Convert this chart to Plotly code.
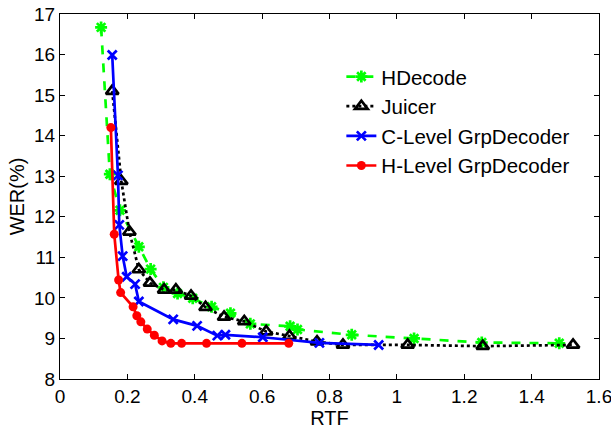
import plotly.graph_objects as go

# HDecode
hd_rtf = [0.122, 0.148, 0.178, 0.234, 0.269, 0.307, 0.349, 0.394, 0.450, 0.506, 0.565, 0.683, 0.705, 0.866, 1.051, 1.252, 1.482]
hd_wer = [16.67, 13.05, 12.16, 11.26, 10.71, 10.26, 10.11, 9.99, 9.78, 9.62, 9.36, 9.30, 9.22, 9.09, 9.00, 8.90, 8.88]

# Juicer
ju_rtf = [0.155, 0.182, 0.206, 0.234, 0.267, 0.309, 0.344, 0.389, 0.432, 0.487, 0.547, 0.612, 0.681, 0.763, 0.840, 1.032, 1.255, 1.523]
ju_wer = [15.10, 12.88, 11.63, 10.70, 10.37, 10.20, 10.20, 10.05, 9.77, 9.53, 9.42, 9.17, 9.06, 8.92, 8.84, 8.84, 8.81, 8.84]

# C-Level GrpDecoder
cl_rtf = [0.155, 0.172, 0.176, 0.186, 0.198, 0.223, 0.234, 0.336, 0.407, 0.467, 0.491, 0.602, 0.770, 0.946]
cl_wer = [15.99, 13.02, 11.80, 11.03, 10.52, 10.34, 9.91, 9.47, 9.31, 9.07, 9.09, 9.03, 8.89, 8.84]

# H-Level GrpDecoder
hl_rtf = [0.151, 0.161, 0.174, 0.180, 0.217, 0.228, 0.240, 0.259, 0.280, 0.303, 0.329, 0.361, 0.435, 0.540, 0.679]
hl_wer = [14.20, 11.57, 10.44, 10.13, 9.78, 9.56, 9.41, 9.23, 9.08, 8.94, 8.88, 8.88, 8.88, 8.88, 8.88]

x_ticks = [0, 0.2, 0.4, 0.6, 0.8, 1.0, 1.2, 1.4, 1.6]
x_labels = ["0", "0.2", "0.4", "0.6", "0.8", "1", "1.2", "1.4", "1.6"]
y_ticks = [8, 9, 10, 11, 12, 13, 14, 15, 16, 17]

FONT = "Liberation Sans, Arial, sans-serif"

fig = go.Figure()
fig.add_trace(go.Scatter(
    x=hd_rtf, y=hd_wer, name="HDecode", mode="lines+markers",
    line=dict(color="#00ff00", width=2.7, dash="dash"),
    marker=dict(symbol="asterisk-open", size=10, line=dict(color="#00ff00", width=2.7))))
fig.add_trace(go.Scatter(
    x=ju_rtf, y=ju_wer, name="Juicer", mode="lines+markers",
    line=dict(color="#000000", width=2.7, dash="dot"),
    marker=dict(symbol="triangle-up-open", size=11, line=dict(color="#000000", width=2.7))))
fig.add_trace(go.Scatter(
    x=cl_rtf, y=cl_wer, name="C-Level GrpDecoder", mode="lines+markers",
    line=dict(color="#0000ff", width=2.7),
    marker=dict(symbol="x-thin-open", size=9, line=dict(color="#0000ff", width=2.7))))
fig.add_trace(go.Scatter(
    x=hl_rtf, y=hl_wer, name="H-Level GrpDecoder", mode="lines+markers",
    line=dict(color="#ff0000", width=2.7),
    marker=dict(symbol="circle", size=9, color="#ff0000")))

fig.update_layout(
    width=611, height=430,
    margin=dict(l=60, r=12, t=14, b=51),
    paper_bgcolor="white", plot_bgcolor="white",
    font=dict(family=FONT, size=19, color="black"),
    showlegend=True,
    legend=dict(x=0.522, y=0.883, xanchor="left", yanchor="top",
                bgcolor="rgba(0,0,0,0)", borderwidth=0,
                font=dict(family=FONT, size=20.5), tracegroupgap=0),
)
fig.update_xaxes(
    range=[0, 1.6], tickvals=x_ticks, ticktext=x_labels, automargin=False,
    ticklabeloverflow="allow",
    showgrid=False, zeroline=False, showline=True, linecolor="black", linewidth=1,
    mirror="ticks", ticks="inside", ticklen=5, tickcolor="black",
    tickfont=dict(size=19), title=dict(text="RTF", font=dict(size=20), standoff=0))
fig.update_yaxes(
    range=[8, 17], tickvals=y_ticks, automargin=False,
    ticklabeloverflow="allow",
    showgrid=False, zeroline=False, showline=True, linecolor="black", linewidth=1,
    mirror="ticks", ticks="inside", ticklen=5, tickcolor="black",
    tickfont=dict(size=19), title=dict(text="WER(%)", font=dict(size=20), standoff=4))

fig.write_html("out.html", config={"displayModeBar": False},
               post_script="document.body.style.margin='0';")
